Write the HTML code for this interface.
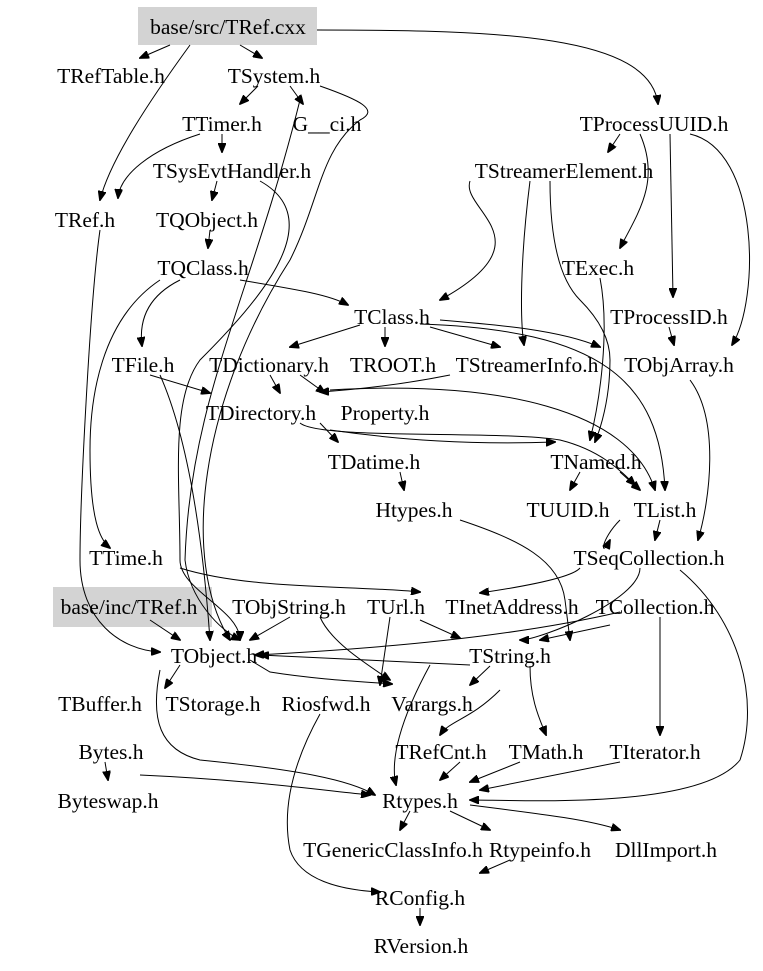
<!DOCTYPE html>
<html><head><meta charset="utf-8"><style>
html,body{margin:0;padding:0;background:#fff;}
svg{display:block;}
text{font-family:"Liberation Serif",serif;font-size:21.5px;fill:#000;text-anchor:middle;}
path{fill:none;stroke:#000;stroke-width:1;}
</style></head><body>
<svg width="763" height="971" viewBox="0 0 763 971" xmlns="http://www.w3.org/2000/svg">
<defs><marker id="a" markerWidth="10" markerHeight="8" refX="9" refY="4" orient="auto" markerUnits="userSpaceOnUse"><path d="M0,0 L10,4 L0,8 z" style="fill:#000;stroke:#000"/></marker></defs>
<rect x="138" y="7" width="179" height="38" fill="#d3d3d3"/>
<rect x="53" y="587" width="159" height="40" fill="#d3d3d3"/>
<g marker-end="url(#a)">
<path d="M170,45 L140,58"/>
<path d="M240,45 L262,58"/>
<path d="M317,30 C500,30 650,35 658,104"/>
<path d="M190,45 C150,100 110,160 100,200"/>
<path d="M258,86 L240,104"/>
<path d="M290,86 L303,104"/>
<path d="M320,86 C360,100 380,110 360,120 C320,150 320,200 290,260 C200,400 180,560 230,640"/>
<path d="M222,134 L222,152"/>
<path d="M200,134 C150,150 120,175 118,198"/>
<path d="M620,134 L608,152"/>
<path d="M640,134 C660,180 640,210 620,248"/>
<path d="M670,134 L673,297"/>
<path d="M690,134 C760,150 760,300 732,345"/>
<path d="M217,181 L212,200"/>
<path d="M260,181 C330,220 260,300 200,360 C170,400 180,480 180,560 C180,590 240,610 240,640"/>
<path d="M210,230 L208,248"/>
<path d="M160,280 C100,320 90,400 90,450 C90,520 100,540 110,548"/>
<path d="M180,280 C140,300 140,330 142,346"/>
<path d="M240,280 C300,290 330,295 348,305"/>
<path d="M550,181 C550,240 560,280 580,300 C600,320 610,340 610,360 C610,400 600,430 595,442"/>
<path d="M530,181 C520,260 520,320 524,345"/>
<path d="M470,181 C460,210 550,240 440,300"/>
<path d="M600,278 C610,330 600,400 590,440"/>
<path d="M360,325 L290,347"/>
<path d="M385,327 L385,346"/>
<path d="M430,327 L500,347"/>
<path d="M440,320 C500,325 560,330 600,347"/>
<path d="M420,324 C600,330 660,380 665,490"/>
<path d="M669,327 L674,345"/>
<path d="M150,375 L210,393"/>
<path d="M160,375 C180,420 200,500 210,640"/>
<path d="M270,375 L280,393"/>
<path d="M300,375 L325,393"/>
<path d="M450,375 C400,385 350,390 320,392"/>
<path d="M330,390 C500,380 630,410 655,490"/>
<path d="M690,380 C720,420 710,500 698,540"/>
<path d="M320,423 L338,442"/>
<path d="M330,430 C400,440 470,445 555,442"/>
<path d="M300,423 C320,440 500,430 560,440 C600,450 620,470 635,485"/>
<path d="M400,472 L404,490"/>
<path d="M580,472 L570,490"/>
<path d="M620,472 L640,490"/>
<path d="M460,520 C520,540 560,560 565,600 L570,640"/>
<path d="M620,520 C600,540 600,560 610,540"/>
<path d="M660,520 L655,540"/>
<path d="M100,230 C90,300 80,500 80,560 C80,620 120,650 160,652"/>
<path d="M300,100 C250,300 190,400 185,560 C190,600 220,630 240,640"/>
<path d="M580,568 C570,580 500,590 480,593"/>
<path d="M180,568 C250,590 350,585 420,592"/>
<path d="M640,568 C640,600 540,640 520,640"/>
<path d="M620,612 C500,640 350,650 255,655"/>
<path d="M610,625 L540,640"/>
<path d="M660,617 L660,735"/>
<path d="M680,570 C740,620 760,700 740,760 C700,810 520,800 470,800"/>
<path d="M290,617 L250,640"/>
<path d="M320,617 C330,640 360,660 390,680"/>
<path d="M390,617 L380,685"/>
<path d="M420,620 L460,638"/>
<path d="M150,620 L180,640"/>
<path d="M470,665 L260,655"/>
<path d="M490,666 L470,685"/>
<path d="M530,666 C530,700 540,720 546,735"/>
<path d="M500,690 C470,720 450,720 440,735"/>
<path d="M250,660 L270,672 C320,680 370,682 392,684"/>
<path d="M180,665 L165,688"/>
<path d="M430,665 C400,720 390,760 396,785"/>
<path d="M160,670 C150,720 160,750 200,760 C300,770 350,780 375,795"/>
<path d="M105,762 L108,780"/>
<path d="M140,775 C250,780 320,790 370,795"/>
<path d="M320,714 C300,750 280,800 290,850 C300,880 340,890 380,892"/>
<path d="M460,762 L440,780"/>
<path d="M520,762 L470,782"/>
<path d="M620,762 L480,790"/>
<path d="M410,811 L400,830"/>
<path d="M450,811 L490,830"/>
<path d="M470,805 C550,815 590,820 620,830"/>
<path d="M510,860 L480,873"/>
<path d="M420,908 L420,925"/>
</g>
<g>
<text x="228" y="34">base/src/TRef.cxx</text>
<text x="111" y="83">TRefTable.h</text>
<text x="274" y="83">TSystem.h</text>
<text x="222" y="131">TTimer.h</text>
<text x="327" y="131">G__ci.h</text>
<text x="654" y="131">TProcessUUID.h</text>
<text x="232" y="178">TSysEvtHandler.h</text>
<text x="564" y="178">TStreamerElement.h</text>
<text x="85" y="227">TRef.h</text>
<text x="207" y="227">TQObject.h</text>
<text x="203" y="275">TQClass.h</text>
<text x="598" y="275">TExec.h</text>
<text x="392" y="324">TClass.h</text>
<text x="669" y="324">TProcessID.h</text>
<text x="143" y="372">TFile.h</text>
<text x="269" y="372">TDictionary.h</text>
<text x="393" y="372">TROOT.h</text>
<text x="527" y="372">TStreamerInfo.h</text>
<text x="679" y="372">TObjArray.h</text>
<text x="261" y="420">TDirectory.h</text>
<text x="385" y="420">Property.h</text>
<text x="374" y="469">TDatime.h</text>
<text x="596" y="469">TNamed.h</text>
<text x="414" y="517">Htypes.h</text>
<text x="568" y="517">TUUID.h</text>
<text x="665" y="517">TList.h</text>
<text x="126" y="565">TTime.h</text>
<text x="649" y="565">TSeqCollection.h</text>
<text x="129" y="614">base/inc/TRef.h</text>
<text x="289" y="614">TObjString.h</text>
<text x="396" y="614">TUrl.h</text>
<text x="512" y="614">TInetAddress.h</text>
<text x="655" y="614">TCollection.h</text>
<text x="214" y="663">TObject.h</text>
<text x="510" y="663">TString.h</text>
<text x="100" y="711">TBuffer.h</text>
<text x="213" y="711">TStorage.h</text>
<text x="326" y="711">Riosfwd.h</text>
<text x="432" y="711">Varargs.h</text>
<text x="111" y="759">Bytes.h</text>
<text x="441" y="759">TRefCnt.h</text>
<text x="546" y="759">TMath.h</text>
<text x="655" y="759">TIterator.h</text>
<text x="108" y="808">Byteswap.h</text>
<text x="420" y="808">Rtypes.h</text>
<text x="393" y="857">TGenericClassInfo.h</text>
<text x="540" y="857">Rtypeinfo.h</text>
<text x="666" y="857">DllImport.h</text>
<text x="420" y="905">RConfig.h</text>
<text x="421" y="953">RVersion.h</text>
</g>
</svg>
</body></html>
